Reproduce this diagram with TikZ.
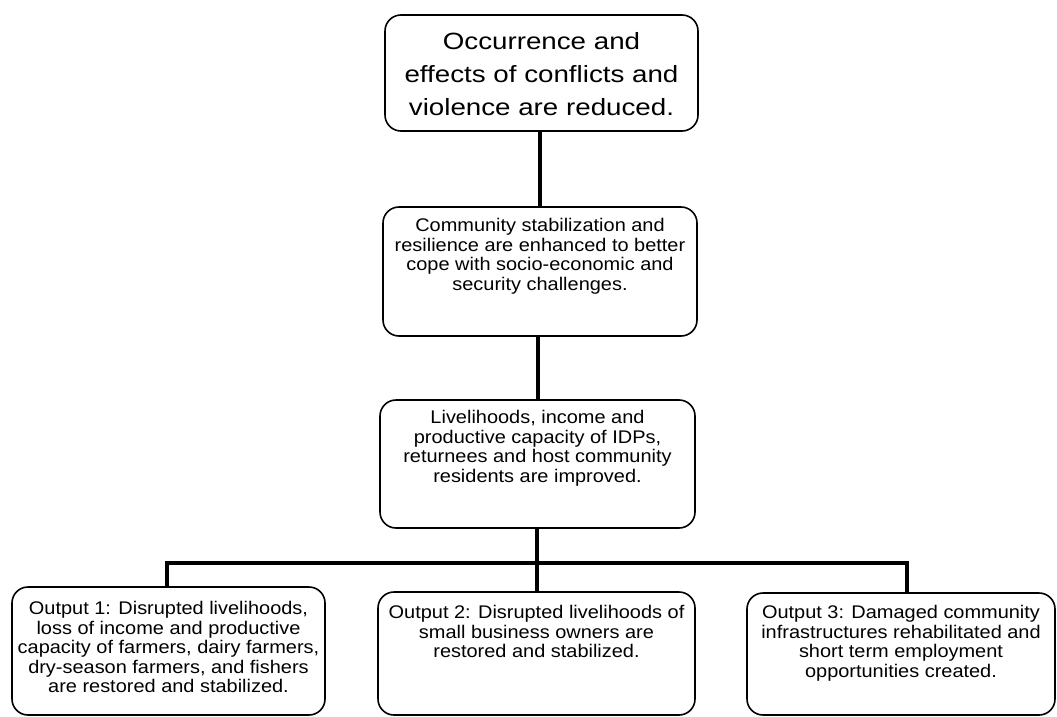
\documentclass[tikz,border=0pt]{standalone}
\usepackage{fontspec}
\setmainfont{Liberation Sans}
\newfontfamily\widesmall[FakeStretch=1.09]{Liberation Sans}
\newfontfamily\widebig[FakeStretch=1.18]{Liberation Sans}
\begin{document}
\begin{tikzpicture}[x=1pt,y=-1pt,
  box/.style={draw=black,line width=1.6pt,rounded corners=16pt,minimum width=#1,inner sep=0pt},
  txt/.style={anchor=north,align=center,inner sep=0pt,font=\widesmall\fontsize{18.3}{19.5}\selectfont},
  conn/.style={line width=4pt}]
\useasboundingbox (0,0) rectangle (1057,717);
% boxes
\node[box=313pt,minimum height=116pt] (top) at (541.5,73) {};
\node[box=314pt,minimum height=129pt] (mid) at (540,271.5) {};
\node[box=315pt,minimum height=128pt] (liv) at (537.5,464) {};
\node[box=313pt,minimum height=128pt] (o1) at (168.5,651) {};
\node[box=317pt,minimum height=123pt] (o2) at (536.5,653.5) {};
\node[box=308pt,minimum height=122pt] (o3) at (901,654) {};
% texts
\node[anchor=center,align=center,inner sep=0pt,font=\widebig\fontsize{23.5}{33}\selectfont] (ttop) at ([yshift=-1pt]top.center) {Occurrence and\\effects of conflicts and\\violence are reduced.};
\node[txt] (tmid) at ([yshift=-12pt]mid.north) {Community stabilization and\\resilience are enhanced to better\\cope with socio-economic and\\security challenges.};
\node[txt] (tliv) at ([yshift=-11pt]liv.north) {Livelihoods, income and\\productive capacity of IDPs,\\returnees and host community\\residents are improved.};
\node[txt] (to1) at ([yshift=-15pt]o1.north) {Output 1: Disrupted livelihoods,\\loss of income and productive\\capacity of farmers, dairy farmers,\\dry-season farmers, and fishers\\are restored and stabilized.};
\node[txt] (to2) at ([yshift=-14pt]o2.north) {Output 2: Disrupted livelihoods of\\small business owners are\\restored and stabilized.};
\node[txt] (to3) at ([yshift=-13pt]o3.north) {Output 3: Damaged community\\infrastructures rehabilitated and\\short term employment\\opportunities created.};
% connectors
\coordinate (bar) at (537,563);
\draw[conn] (top.south -| 540,0) -- (mid.north -| 540,0);
\draw[conn] (mid.south -| 538,0) -- (liv.north -| 538,0);
\draw[conn] (liv.south -| bar) -- (o2.north -| bar);
\draw[conn] (o1.north -| 167,0) -- (167,563) -- (907,563) -- (o3.north -| 907,0);
\end{tikzpicture}
\end{document}
